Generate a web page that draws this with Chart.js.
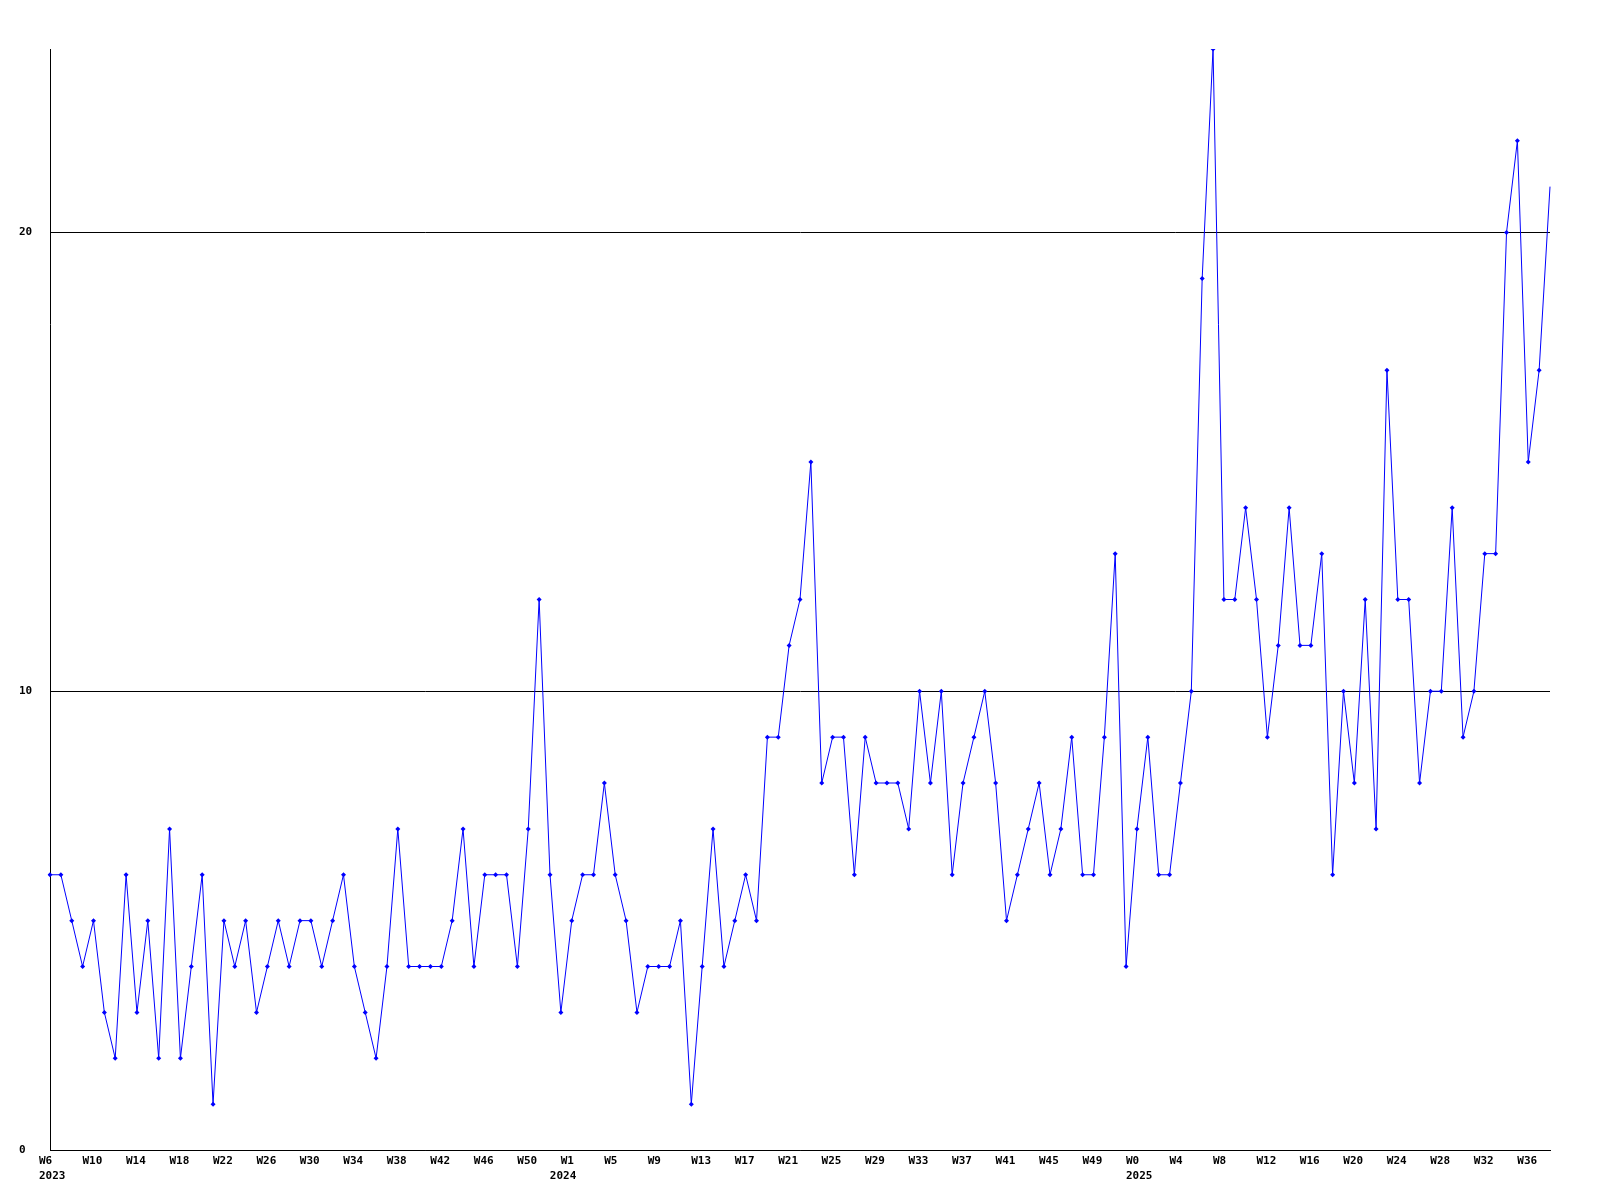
<!DOCTYPE html>
<html>
<head>
<meta charset="utf-8">
<script src="https://cdn.jsdelivr.net/npm/chart.js@4/dist/chart.umd.min.js"></script>
<style>
html,body{margin:0;padding:0;background:#fff;}
#c{display:block;}
</style>
</head>
<body>
<canvas id="c" width="1600" height="1200"></canvas>
<script>
// Weekly categories (year-week)
const categories = [
  "2023-W6","2023-W7","2023-W8","2023-W9","2023-W10","2023-W11","2023-W12","2023-W13","2023-W14","2023-W15",
  "2023-W16","2023-W17","2023-W18","2023-W19","2023-W20","2023-W21","2023-W22","2023-W23","2023-W24","2023-W25",
  "2023-W26","2023-W27","2023-W28","2023-W29","2023-W30","2023-W31","2023-W32","2023-W33","2023-W34","2023-W35",
  "2023-W36","2023-W37","2023-W38","2023-W39","2023-W40","2023-W41","2023-W42","2023-W43","2023-W44","2023-W45",
  "2023-W46","2023-W47","2023-W48","2023-W49","2023-W50","2023-W51","2023-W52",
  "2024-W0","2024-W1","2024-W2","2024-W3","2024-W4","2024-W5","2024-W6","2024-W7","2024-W8","2024-W9",
  "2024-W10","2024-W11","2024-W12","2024-W13","2024-W14","2024-W15","2024-W16","2024-W17","2024-W18","2024-W19",
  "2024-W20","2024-W21","2024-W22","2024-W23","2024-W24","2024-W25","2024-W26","2024-W27","2024-W28","2024-W29",
  "2024-W30","2024-W31","2024-W32","2024-W33","2024-W34","2024-W35","2024-W36","2024-W37","2024-W38","2024-W39",
  "2024-W40","2024-W41","2024-W42","2024-W43","2024-W44","2024-W45","2024-W46","2024-W47","2024-W48","2024-W49",
  "2024-W50","2024-W51","2024-W52",
  "2025-W0","2025-W1","2025-W2","2025-W3","2025-W4","2025-W5","2025-W6","2025-W7","2025-W8","2025-W9",
  "2025-W10","2025-W11","2025-W12","2025-W13","2025-W14","2025-W15","2025-W16","2025-W17","2025-W18","2025-W19",
  "2025-W20","2025-W21","2025-W22","2025-W23","2025-W24","2025-W25","2025-W26","2025-W27","2025-W28","2025-W29",
  "2025-W30","2025-W31","2025-W32","2025-W33","2025-W34","2025-W35","2025-W36","2025-W37","2025-W38"
];

// Weekly values
const values = [
  6,6,5,4,5,3,2,6,3,5,
  2,7,2,4,6,1,5,4,5,3,
  4,5,4,5,5,4,5,6,4,3,
  2,4,7,4,4,4,4,5,7,4,
  6,6,6,4,7,12,6,3,5,6,
  6,8,6,5,3,4,4,4,5,1,
  4,7,4,5,6,5,9,9,11,12,
  15,8,9,9,6,9,8,8,8,7,
  10,8,10,6,8,9,10,8,5,6,
  7,8,6,7,9,6,6,9,13,4,
  7,9,6,6,8,10,19,24,12,12,
  14,12,9,11,14,11,11,13,6,10,
  8,12,7,17,12,12,8,10,10,14,
  9,10,13,13,20,22,15,17,21
];

// X tick labels shown (week line)
const tickCategories = [
  "2023-W6","2023-W10","2023-W14","2023-W18","2023-W22","2023-W26","2023-W30","2023-W34","2023-W38","2023-W42","2023-W46","2023-W50",
  "2024-W1","2024-W5","2024-W9","2024-W13","2024-W17","2024-W21","2024-W25","2024-W29","2024-W33","2024-W37","2024-W41","2024-W45","2024-W49",
  "2025-W0","2025-W4","2025-W8","2025-W12","2025-W16","2025-W20","2025-W24","2025-W28","2025-W32","2025-W36"
];
// Year labels (second line), placed at the first week of each year
const yearTicks = ["2023-W6","2024-W0","2025-W0"];

// Y tick labels
const yTicks = [0, 10, 20];
const yMax = 24;

const tickFont = {family: "'DejaVu Sans Mono', monospace", size: 11, weight: 'bold', lineHeight: '15px'};

new Chart(document.getElementById('c'), {
  type: 'line',
  data: {
    labels: categories,
    datasets: [{
      data: values,
      borderColor: '#0000ff',
      backgroundColor: '#0000ff',
      borderWidth: 1,
      tension: 0,
      fill: false,
      pointStyle: 'rectRot',
      pointRadius: (ctx) => ctx.dataIndex === values.length - 1 ? 0 : 2.5,
      pointBorderWidth: 0,
      pointBackgroundColor: '#0000ff',
      pointHoverRadius: 2.5
    }]
  },
  options: {
    responsive: false,
    animation: false,
    devicePixelRatio: 1,
    layout: {padding: {left: 19, top: 49, right: 50, bottom: 0}},
    plugins: {legend: {display: false}, tooltip: {enabled: false}},
    scales: {
      x: {
        type: 'category',
        offset: false,
        grid: {display: false, drawTicks: false},
        border: {display: true, color: '#000', width: 1},
        afterFit: (s) => { s.height = 50; },
        ticks: {
          autoSkip: false,
          maxRotation: 0,
          minRotation: 0,
          align: 'start',
          labelOffset: -11,
          padding: 4,
          color: '#000',
          font: tickFont,
          callback: function(value, index) {
            const cat = categories[index];
            const showWeek = tickCategories.includes(cat);
            const showYear = yearTicks.includes(cat);
            if (!showWeek && !showYear) return null;
            const [year, week] = cat.split('-');
            return showYear ? [showWeek ? week : '', year] : [week];
          }
        }
      },
      y: {
        min: 0,
        max: yMax,
        grid: {display: true, color: '#000', lineWidth: 1, drawTicks: false},
        border: {display: true, color: '#000', width: 1},
        afterBuildTicks: (s) => { s.ticks = yTicks.map(v => ({value: v})); },
        afterFit: (s) => { s.width = 31; },
        ticks: {
          crossAlign: 'far',
          padding: 17,
          color: '#000',
          font: tickFont,
          callback: (v) => String(v)
        }
      }
    }
  }
});
</script>
</body>
</html>
